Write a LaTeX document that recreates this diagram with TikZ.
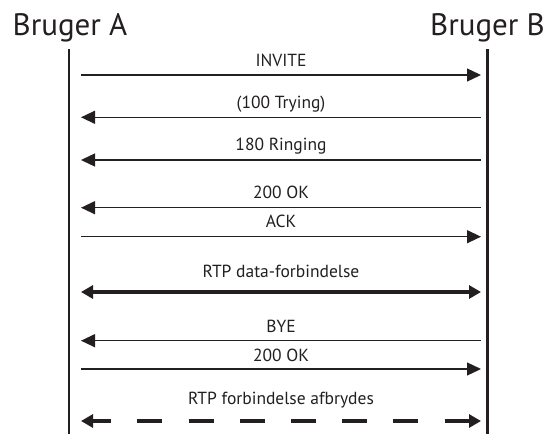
\documentclass[tikz,border=0pt]{standalone}
\usepackage{fontspec}
\setmainfont{PT Sans}
\usetikzlibrary{arrows.meta,positioning}
\definecolor{ink}{RGB}{35,31,32}

\begin{document}
\begin{tikzpicture}[x=1pt, y=-1pt, ink,
    title/.style={anchor=base, font=\fontsize{31}{33}\selectfont, text=ink},
    lbl/.style={anchor=base, font=\fontsize{17.5}{19}\selectfont, text=ink},
    lifeline/.style={line width=2.7pt, draw=ink},
    msg/.style={-{Triangle[length=14pt, width=13pt]}, line width=1.3pt},
    reply/.style={{Triangle[length=14pt, width=13pt]}-, line width=1.3pt},
    media/.style={{Triangle[length=12pt, width=13pt]}-{Triangle[length=12pt, width=13pt]}, line width=4pt},
    teardown/.style={media, dash pattern={on 25pt off 26.2pt}, dash phase=6pt}
]
\useasboundingbox (0,0) rectangle (546,434);

% Users
\node[title] (userA) at (70,35) {Bruger A};
\node[title] (userB) at (487.5,35) {Bruger B};

% Lifelines
\coordinate (topA) at (69,49);
\coordinate (botA) at (69,434);
\coordinate (topB) at (487.5,49);
\coordinate (botB) at (487.5,434);
\draw[lifeline] (topA) -- (botA);
\draw[lifeline] (topB) -- (botB);

% Messages
\foreach \i/\y/\lift/\txt/\kind in {
    1/75/8.3/INVITE/msg,
    2/117.3/9/{(100 Trying)}/reply,
    3/160/10/180 Ringing/reply,
    4/207.7/9/200 OK/reply,
    5/236.7/9/ACK/msg,
    6/292/15/RTP data-forbindelse/media,
    7/340.7/8/BYE/reply,
    8/369/8/200 OK/msg,
    9/421/17/RTP forbindelse afbrydes/teardown}
{
    \coordinate (a\i) at (81,\y);
    \coordinate (b\i) at (481,\y);
    \draw[\kind] (a\i) -- (b\i) node[lbl, midway, yshift=\lift pt] {\txt};
}

\end{tikzpicture}
\end{document}
